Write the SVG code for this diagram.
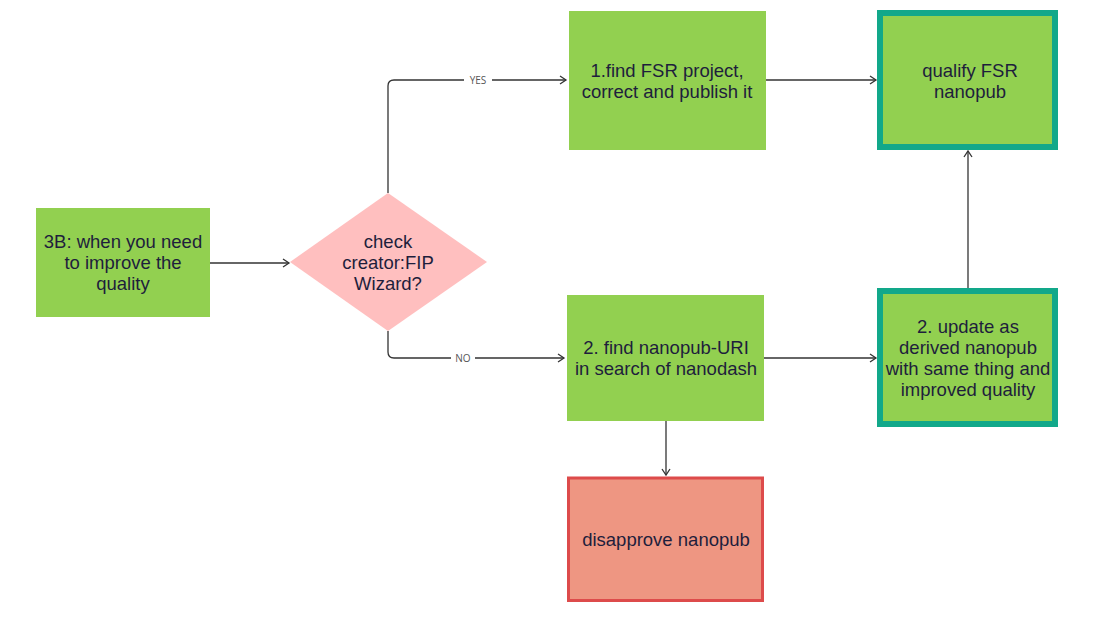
<svg xmlns="http://www.w3.org/2000/svg" width="1100" height="617" viewBox="0 0 1100 617">
<defs>
<style>
.t{font-family:"Liberation Sans",Arial,sans-serif;font-size:18.5px;fill:#1e1e3c;text-anchor:middle}
.lbl{font-family:"Open Sans","Liberation Sans",sans-serif;font-size:10px;fill:#555;text-anchor:middle}
.c{fill:none;stroke:#333;stroke-width:1.3}
.g{fill:#92d050}
</style>
<marker id="a" markerWidth="12" markerHeight="12" refX="9" refY="6" orient="auto" markerUnits="userSpaceOnUse">
<path d="M3,2 L9,6 L3,10" fill="none" stroke="#333" stroke-width="1.3"/>
</marker>
</defs>
<rect width="1100" height="617" fill="#fff"/>
<g id="connectors">
<path class="c" d="M210,263 H289" marker-end="url(#a)"/>
<path class="c" d="M388,193 V86 Q388,80 394,80 H566" marker-end="url(#a)"/>
<path class="c" d="M388,331 V352 Q388,358 394,358 H564" marker-end="url(#a)"/>
<path class="c" d="M766,80 H876" marker-end="url(#a)"/>
<path class="c" d="M764,358 H876" marker-end="url(#a)"/>
<path class="c" d="M968,289 V151" marker-end="url(#a)"/>
<path class="c" d="M666,421 V475" marker-end="url(#a)"/>
<rect x="464" y="73" width="28" height="14" fill="#fff"/>
<text class="lbl" x="478" y="84">YES</text>
<rect x="451" y="351" width="24" height="14" fill="#fff"/>
<text class="lbl" x="463" y="362">NO</text>
</g>
<g id="n-start">
<rect class="g" x="36" y="208" width="174" height="109"/>
<text class="t" x="123" y="248">3B: when you need</text>
<text class="t" x="123" y="269">to improve the</text>
<text class="t" x="123" y="290">quality</text>
</g>
<g id="n-check">
<polygon points="388,193 487,262 388,331 290,262" fill="#ffbfbf"/>
<text class="t" x="388" y="248">check</text>
<text class="t" x="388" y="269">creator:FIP</text>
<text class="t" x="388" y="290">Wizard?</text>
</g>
<g id="n-fsr">
<rect class="g" x="569" y="11" width="197" height="139"/>
<text class="t" x="667" y="77">1.find FSR project,</text>
<text class="t" x="667" y="98">correct and publish it</text>
</g>
<g id="n-qualify">
<rect class="g" x="880" y="13" width="175" height="134" stroke="#12a88a" stroke-width="6"/>
<text class="t" x="970" y="77">qualify FSR</text>
<text class="t" x="970" y="98">nanopub</text>
</g>
<g id="n-find">
<rect class="g" x="567" y="295" width="197" height="126"/>
<text class="t" x="666" y="354">2. find nanopub-URI</text>
<text class="t" x="666" y="375">in search of nanodash</text>
</g>
<g id="n-update">
<rect class="g" x="880" y="291" width="175" height="133" stroke="#12a88a" stroke-width="6"/>
<text class="t" x="968" y="333">2. update as</text>
<text class="t" x="968" y="354">derived nanopub</text>
<text class="t" x="968" y="375">with same thing and</text>
<text class="t" x="968" y="396">improved quality</text>
</g>
<g id="n-disapprove">
<rect x="568.5" y="478" width="194" height="122.5" fill="#ee9682" stroke="#dd4b4b" stroke-width="3"/>
<text class="t" x="666" y="546">disapprove nanopub</text>
</g>
</svg>
